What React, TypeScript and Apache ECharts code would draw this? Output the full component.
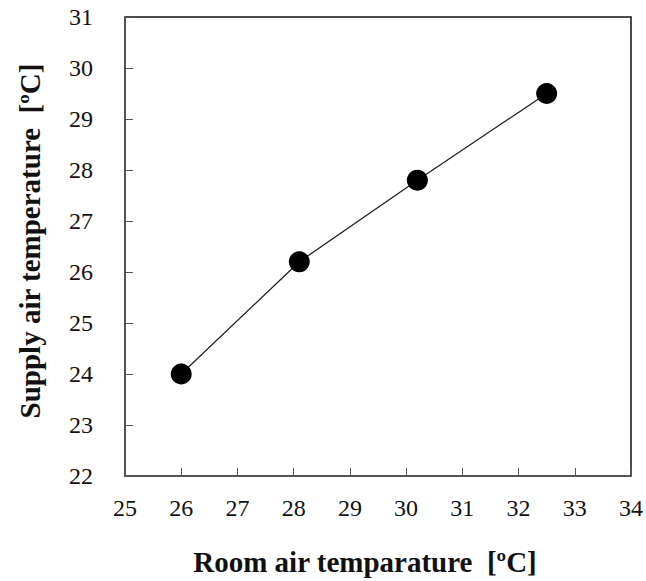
import React, { useEffect, useRef } from "react";
import * as echarts from "echarts";

const roomTemp = [26, 28.1, 30.2, 32.5];
const supplyTemp = [24, 26.2, 27.8, 29.5];
const xTitle = "Room air temparature  [ºC]";
const yTitle = "Supply air temperature  [ºC]";

export default function App() {
  const ref = useRef<HTMLDivElement>(null);
  useEffect(() => {
    document.body.style.margin = "0";
    const chart = echarts.init(ref.current!, null, { renderer: "svg" });
    const font = "'Liberation Serif', 'Times New Roman', serif";
    chart.setOption({
      animation: false,
      backgroundColor: "#ffffff",
      grid: { left: 125, top: 17, right: 13, bottom: 105, show: true, borderColor: "#111", borderWidth: 1.5, backgroundColor: "transparent" },
      xAxis: {
        type: "value",
        min: 25,
        max: 34,
        interval: 1,
        axisLine: { show: true, onZero: false, lineStyle: { color: "#555", width: 1.5 } },
        axisTick: { show: true, inside: true, length: 8, lineStyle: { color: "#555", width: 1 } },
        axisLabel: { color: "#111", fontFamily: font, fontSize: 24, margin: 20 },
        splitLine: { show: false },
      },
      yAxis: {
        type: "value",
        min: 22,
        max: 31,
        interval: 1,
        axisLine: { show: true, onZero: false, lineStyle: { color: "#555", width: 1.5 } },
        axisTick: { show: true, inside: true, length: 8, lineStyle: { color: "#555", width: 1 } },
        axisLabel: { color: "#111", fontFamily: font, fontSize: 24, margin: 32 },
        splitLine: { show: false },
      },
      graphic: [
        {
          type: "text",
          x: 365,
          y: 562,
          style: { text: xTitle, font: `bold 29px ${font}`, fill: "#111", textAlign: "center", textVerticalAlign: "middle" },
        },
        {
          type: "text",
          x: 30,
          y: 241,
          rotation: Math.PI / 2,
          style: { text: yTitle, font: `bold 29px ${font}`, fill: "#111", textAlign: "center", textVerticalAlign: "middle" },
        },
      ],
      series: [
        {
          type: "line",
          data: roomTemp.map((x, i) => [x, supplyTemp[i]]),
          symbol: "circle",
          symbolSize: 21,
          itemStyle: { color: "#000" },
          lineStyle: { color: "#222", width: 1.3 },
        },
      ],
    });
    return () => chart.dispose();
  }, []);
  return <div ref={ref} style={{ width: 646, height: 581 }} />;
}
